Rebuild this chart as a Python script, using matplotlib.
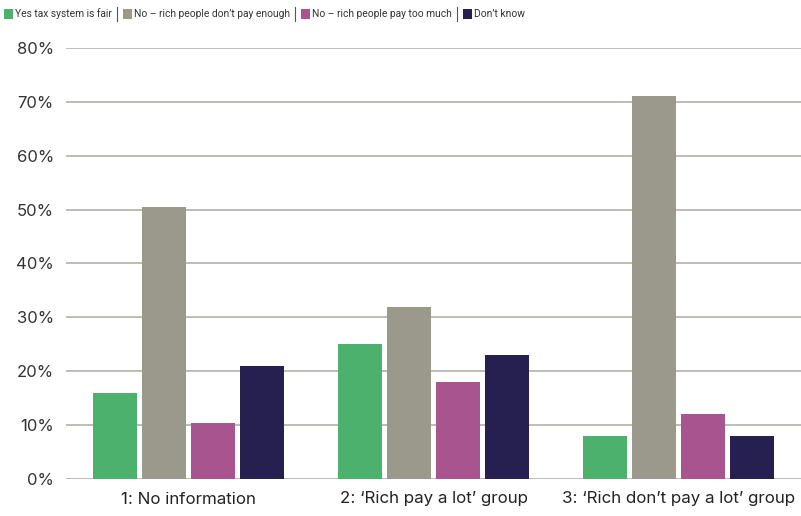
import matplotlib
matplotlib.use("Agg")
import matplotlib.pyplot as plt
from matplotlib.patches import Rectangle
import numpy as np

plt.rcParams['font.family'] = ['Inter', 'DejaVu Sans']

categories = ["1: No information", "2: \u2018Rich pay a lot\u2019 group", "3: \u2018Rich don\u2019t pay a lot\u2019 group"]
series_names = ["Yes tax system is fair", "No \u2013 rich people don\u2019t pay enough",
                "No \u2013 rich people pay too much", "Don\u2019t know"]
yes_fair = [16, 25, 8]
no_not_enough = [50.5, 32, 71]
no_too_much = [10.4, 18, 12]
dont_know = [21, 23, 8]
yticks = [0, 10, 20, 30, 40, 50, 60, 70, 80]
colors = ["#4bb16c", "#9a998b", "#a8558f", "#25204f"]

series = [yes_fair, no_not_enough, no_too_much, dont_know]

W, H = 801, 516
fig = plt.figure(figsize=(W/100, H/100), dpi=100)
ax = fig.add_axes([66/W, 37/H, 1 - 66/W, (479-48)/H])

x = np.arange(len(categories))
step = 0.2
width = 0.18
for i, (vals, c) in enumerate(zip(series, colors)):
    ax.bar(x + (i - 1.5) * step, vals, width=width, color=c, zorder=3, label=series_names[i])

ax.set_xlim(-0.5, 2.5)
ax.set_ylim(0, 80)
ax.set_yticks(yticks)
ax.set_yticklabels([f"{t}%" for t in yticks])
ax.yaxis.grid(True, color="#b3b1a8", linewidth=1.2, zorder=0)
ax.tick_params(axis='y', length=0, pad=8.7, labelsize=12, labelcolor="#333333")
ax.set_xticks(x)
ax.set_xticklabels(categories)
ax.tick_params(axis='x', length=0, pad=9, labelsize=12.2, labelcolor="#222222")
for s in ax.spines.values():
    s.set_visible(False)

# legend row, laid out from measured text widths
renderer = fig.canvas.get_renderer()
ly = H - 14
cur = 4
for k, (name, c) in enumerate(zip(series_names, colors)):
    fig.patches.append(Rectangle((cur/W, (ly-4.5)/H), 9/W, 9/H, transform=fig.transFigure,
                                 facecolor=c, edgecolor='none'))
    cur += 11
    t = fig.text(cur/W, ly/H, name, fontsize=7.4, color="#333333", va='center', ha='left',
                 family=['Roboto', 'DejaVu Sans'])
    bb = t.get_window_extent(renderer=renderer)
    cur += bb.width + 5
    if k < len(series_names) - 1:
        fig.lines.append(plt.Line2D([cur/W, cur/W], [(ly-7)/H, (ly+7)/H], transform=fig.transFigure,
                                    color="#555555", linewidth=0.8))
        cur += 6

fig.savefig("out.png", dpi=100)
